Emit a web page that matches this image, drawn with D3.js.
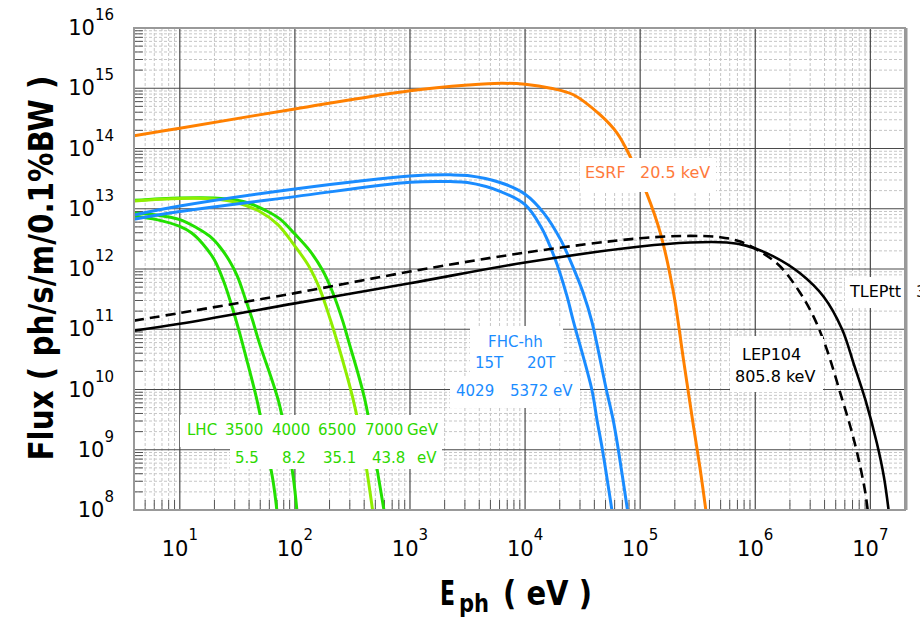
<!DOCTYPE html>
<html>
<head>
<meta charset="utf-8">
<script src="https://cdn.jsdelivr.net/npm/d3@7"></script>
<style>
body { margin: 0; background: #fff; }
text { font-family: "DejaVu Sans", sans-serif; }
</style>
</head>
<body>
<svg id="chart"></svg>
<script>
// photon energy (eV), flux (ph/s/m/0.1%BW)
var xTicks = [10, 1e2, 1e3, 1e4, 1e5, 1e6, 1e7];
var yTicks = [1e8, 1e9, 1e10, 1e11, 1e12, 1e13, 1e14, 1e15, 1e16];

var esrf = [[4, 1.62e14], [10, 2.17e14], [100, 4.54e14], [1000, 9.1e14], [3200, 1.13e15], [6200, 1.21e15],
	[1e4, 1.16e15], [1.67e4, 1.0e15], [2.63e4, 7.8e14], [4.5e4, 3.6e14], [6.3e4, 1.8e14], [8.2e4, 7.3e13],
	[1.14e5, 1.8e13], [1.5e5, 3.9e12], [1.95e5, 4.0e11], [2.38e5, 3.1e10], [2.91e5, 2.4e9], [3.33e5, 4.6e8], [3.72e5, 1e8]];
var fhc15 = [[4, 6.7e12], [10, 8.97e12], [100, 1.59e13], [1000, 2.75e13], [2240, 2.82e13], [3160, 2.72e13],
	[6140, 1.93e13], [1e4, 1.17e13], [1.37e4, 5.06e12], [1.79e4, 1.61e12], [2.29e4, 3.8e11], [2.63e4, 1.35e11],
	[3.8e4, 1e10], [4.22e4, 3.1e9], [4.7e4, 1e9], [5.68e4, 1e8]];
var fhc20 = [[4, 7.9e12], [10, 1.11e13], [100, 2.13e13], [1000, 3.5e13], [2240, 3.65e13], [3160, 3.55e13],
	[6140, 2.7e13], [1e4, 1.74e13], [1.46e4, 8.4e12], [2.04e4, 3.04e12], [2.67e4, 9.7e11], [3.19e4, 4.07e11],
	[3.8e4, 1.35e11], [5.08e4, 1e10], [5.83e4, 3.1e9], [6.46e4, 1e9], [7.76e4, 1e8]];
var lhc3500 = [[4, 7.6e12], [6.3, 6.6e12], [10, 5.1e12], [12.6, 4.0e12], [15.8, 2.63e12], [20, 1.41e12],
	[24, 6.3e11], [28.3, 2.43e11], [33.3, 8.3e10], [39, 2.65e10], [46.8, 6.7e9], [56, 1.24e9], [64.4, 3.15e8], [69.7, 1e8]];
var lhc4000 = [[4, 8.5e12], [6.3, 7.9e12], [10, 6.6e12], [14.1, 4.8e12], [18.2, 3.5e12], [22.4, 2.3e12],
	[26.9, 1.38e12], [31.6, 7.6e11], [37.2, 3.16e11], [42.7, 1.45e11], [49, 6.0e10], [71.6, 6.7e9], [85, 1.45e9],
	[96.6, 3.6e8], [104, 1e8]];
var lhc6500 = [[4, 1.35e13], [10, 1.48e13], [20, 1.45e13], [31.6, 1.26e13], [50, 8.9e12], [70.8, 5.5e12],
	[100, 2.4e12], [132, 1.12e12], [166, 4.47e11], [204, 1.41e11], [231, 6.6e10], [321, 6.8e9], [398, 8.9e8], [473, 1e8]];
var lhc7000 = [[4, 1.38e13], [10, 1.51e13], [20, 1.51e13], [31.6, 1.38e13], [41.7, 1.2e13], [55, 9.5e12],
	[74, 6.8e12], [100, 3.8e12], [135, 2.0e12], [174, 9.5e11], [214, 4.0e11], [261, 1.35e11], [291, 6.6e10],
	[406, 6.7e9], [537, 3.16e8], [594, 1e8]];
var lep104 = [[4, 1.39e11], [10, 1.86e11], [100, 3.98e11], [1000, 9.06e11], [1e4, 1.87e12], [1e5, 3.24e12],
	[2.72e5, 3.54e12], [4.97e5, 3.37e12], [7.41e5, 2.85e12], [1.1e6, 1.95e12], [1.65e6, 1.1e12], [2.46e6, 4.0e11],
	[3.21e6, 1.62e11], [4.2e6, 4.54e10], [5.48e6, 8.7e9], [6.7e6, 2.43e9], [7.93e6, 6.8e8], [9.06e6, 1.9e8], [9.48e6, 1e8]];
var tleptt = [[4, 9.5e10], [10, 1.23e11], [100, 2.69e11], [1000, 5.8e11], [1e4, 1.28e12], [1e5, 2.36e12],
	[2.72e5, 2.75e12], [5.68e5, 2.75e12], [8.47e5, 2.42e12], [1.45e6, 1.61e12], [2.45e6, 8.5e11], [3.93e6, 3.47e11],
	[5.68e6, 1e11], [7.2e6, 2.6e10], [9.06e6, 6.7e9], [1.14e7, 1.28e9], [1.31e7, 3.6e8], [1.44e7, 1e8]];

var w = 920;
var h = 618;
var plot = { left: 134, right: 905, top: 28, bottom: 510 };

var xScale = d3.scaleLog().domain([4, 2e7]).range([plot.left, plot.right]);
var yScale = d3.scaleLog().domain([1e8, 1e16]).range([plot.bottom, plot.top]);

var svg = d3.select("#chart")
	.attr("width", w)
	.attr("height", h);
svg.append("rect")
	.attr("width", w)
	.attr("height", h)
	.attr("fill", "white");

function isMajor(v) {
	var l = Math.log10(v);
	return Math.abs(l - Math.round(l)) < 1e-6;
}
var xMinor = xScale.ticks().filter(function (v) { return !isMajor(v); });
var yMinor = yScale.ticks().filter(function (v) { return !isMajor(v); });
var xMajor = xTicks;
var yMajor = yTicks.slice(1, -1);

// minor grid
var grid = svg.append("g");
grid.selectAll(".vmin")
	.data(xMinor)
	.enter()
	.append("line")
	.attr("x1", function (d) { return xScale(d); })
	.attr("x2", function (d) { return xScale(d); })
	.attr("y1", plot.top)
	.attr("y2", plot.bottom)
	.attr("stroke", "#c6c6c6")
	.attr("stroke-dasharray", "3,2");
grid.selectAll(".hmin")
	.data(yMinor)
	.enter()
	.append("line")
	.attr("x1", plot.left)
	.attr("x2", plot.right)
	.attr("y1", function (d) { return yScale(d); })
	.attr("y2", function (d) { return yScale(d); })
	.attr("stroke", "#c6c6c6")
	.attr("stroke-dasharray", "3,2");
// major grid
grid.selectAll(".vmaj")
	.data(xMajor)
	.enter()
	.append("line")
	.attr("x1", function (d) { return xScale(d); })
	.attr("x2", function (d) { return xScale(d); })
	.attr("y1", plot.top)
	.attr("y2", plot.bottom)
	.attr("stroke", "#4a4a4a")
	.attr("stroke-width", 1.2);
grid.selectAll(".hmaj")
	.data(yMajor)
	.enter()
	.append("line")
	.attr("x1", plot.left)
	.attr("x2", plot.right)
	.attr("y1", function (d) { return yScale(d); })
	.attr("y2", function (d) { return yScale(d); })
	.attr("stroke", "#4a4a4a")
	.attr("stroke-width", 1.2);
// inside ticks
grid.selectAll(".xt")
	.data(xMinor)
	.enter()
	.append("line")
	.attr("x1", function (d) { return xScale(d); })
	.attr("x2", function (d) { return xScale(d); })
	.attr("y1", plot.bottom)
	.attr("y2", plot.bottom - 10)
	.attr("stroke", "#555");
grid.selectAll(".yt")
	.data(yMinor)
	.enter()
	.append("line")
	.attr("x1", plot.left)
	.attr("x2", plot.left + 9)
	.attr("y1", function (d) { return yScale(d); })
	.attr("y2", function (d) { return yScale(d); })
	.attr("stroke", "#555");

// curves
svg.append("clipPath")
	.attr("id", "clip")
	.append("rect")
	.attr("x", plot.left)
	.attr("y", plot.top)
	.attr("width", plot.right - plot.left)
	.attr("height", plot.bottom - plot.top);

var line = d3.line()
	.x(function (d) { return xScale(d[0]); })
	.y(function (d) { return yScale(d[1]); })
	.curve(d3.curveCatmullRom.alpha(0.5));

var series = [
	{ data: lhc3500, color: "#22e000", width: 3 },
	{ data: lhc4000, color: "#22e000", width: 3 },
	{ data: lhc7000, color: "#22e000", width: 3 },
	{ data: lhc6500, color: "#8fee00", width: 3 },
	{ data: fhc15, color: "#1a8cff", width: 3 },
	{ data: fhc20, color: "#1a8cff", width: 3 },
	{ data: esrf, color: "#ff8000", width: 3 },
	{ data: tleptt, color: "black", width: 2.6 },
	{ data: lep104, color: "black", width: 2.6, dash: "10,6" }
];
svg.append("g")
	.attr("clip-path", "url(#clip)")
	.selectAll("path")
	.data(series)
	.enter()
	.append("path")
	.attr("d", function (d) { return line(d.data); })
	.attr("fill", "none")
	.attr("stroke", function (d) { return d.color; })
	.attr("stroke-width", function (d) { return d.width; })
	.attr("stroke-dasharray", function (d) { return d.dash || null; });

// label boxes and texts
var boxes = [
	[580, 158, 136, 34], [470, 326, 93, 52], [450, 378, 130, 30],
	[180, 415, 262, 32], [230, 447, 212, 22], [730, 336, 93, 56], [845, 277, 80, 31]
];
svg.append("g")
	.selectAll("rect")
	.data(boxes)
	.enter()
	.append("rect")
	.attr("x", function (d) { return d[0]; })
	.attr("y", function (d) { return d[1]; })
	.attr("width", function (d) { return d[2]; })
	.attr("height", function (d) { return d[3]; })
	.attr("fill", "white");

var labels = [
	{ t: "ESRF", x: 585, y: 178, c: "#ff7a3c", s: 16 },
	{ t: "20.5 keV", x: 640, y: 178, c: "#ff7a3c", s: 16 },
	{ t: "FHC-hh", x: 488, y: 347, c: "#1a8cff", s: 15 },
	{ t: "15T", x: 475, y: 368, c: "#1a8cff", s: 15 },
	{ t: "20T", x: 527, y: 368, c: "#1a8cff", s: 15 },
	{ t: "4029", x: 456, y: 396, c: "#1a8cff", s: 15 },
	{ t: "5372 eV", x: 510, y: 396, c: "#1a8cff", s: 15 },
	{ t: "LHC", x: 187, y: 435, c: "#2ed800", s: 15 },
	{ t: "3500", x: 225, y: 435, c: "#2ed800", s: 15 },
	{ t: "4000", x: 272, y: 435, c: "#2ed800", s: 15 },
	{ t: "6500", x: 318, y: 435, c: "#2ed800", s: 15 },
	{ t: "7000", x: 365, y: 435, c: "#2ed800", s: 15 },
	{ t: "GeV", x: 407, y: 435, c: "#2ed800", s: 15 },
	{ t: "5.5", x: 235, y: 463, c: "#2ed800", s: 15 },
	{ t: "8.2", x: 282, y: 463, c: "#2ed800", s: 15 },
	{ t: "35.1", x: 323, y: 463, c: "#2ed800", s: 15 },
	{ t: "43.8", x: 372, y: 463, c: "#2ed800", s: 15 },
	{ t: "eV", x: 417, y: 463, c: "#2ed800", s: 15 },
	{ t: "LEP104", x: 742, y: 360, c: "black", s: 16 },
	{ t: "805.8 keV", x: 735, y: 382, c: "black", s: 16 },
	{ t: "TLEPtt", x: 850, y: 297, c: "black", s: 16 },
	{ t: "3", x: 916, y: 297, c: "black", s: 16 }
];
svg.append("g")
	.selectAll("text")
	.data(labels)
	.enter()
	.append("text")
	.attr("x", function (d) { return d.x; })
	.attr("y", function (d) { return d.y; })
	.attr("fill", function (d) { return d.c; })
	.attr("font-size", function (d) { return d.s; })
	.text(function (d) { return d.t; });

// frame
svg.append("rect")
	.attr("x", plot.left)
	.attr("y", plot.top)
	.attr("width", plot.right - plot.left)
	.attr("height", plot.bottom - plot.top)
	.attr("fill", "none")
	.attr("stroke", "#999")
	.attr("stroke-width", 2);
svg.append("line")
	.attr("x1", plot.right + 1)
	.attr("x2", plot.right + 1)
	.attr("y1", plot.top)
	.attr("y2", plot.bottom)
	.attr("stroke", "#999")
	.attr("stroke-width", 3);

// tick labels
var xl = svg.append("g")
	.selectAll("text")
	.data(xTicks)
	.enter()
	.append("text")
	.attr("x", function (d) { return xScale(d); })
	.attr("y", 556)
	.attr("text-anchor", "middle")
	.attr("font-size", 21);
xl.append("tspan").text("10");
xl.append("tspan")
	.attr("dy", -16)
	.attr("font-size", 15)
	.text(function (d) { return Math.round(Math.log10(d)); });

var yl = svg.append("g")
	.selectAll("text")
	.data(yTicks)
	.enter()
	.append("text")
	.attr("x", 114)
	.attr("y", function (d) { return yScale(d) + 7; })
	.attr("text-anchor", "end")
	.attr("font-size", 21);
yl.append("tspan").text("10");
yl.append("tspan")
	.attr("dy", -15)
	.attr("font-size", 15)
	.text(function (d) { return Math.round(Math.log10(d)); });

// axis titles
svg.append("text")
	.attr("x", 440)
	.attr("y", 605)
	.attr("font-size", 34)
	.attr("font-weight", "bold")
	.attr("textLength", 15)
	.attr("lengthAdjust", "spacingAndGlyphs")
	.text("E");
svg.append("text")
	.attr("x", 459)
	.attr("y", 612)
	.attr("font-size", 24)
	.attr("font-weight", "bold")
	.attr("textLength", 30)
	.attr("lengthAdjust", "spacingAndGlyphs")
	.text("ph");
svg.append("text")
	.attr("x", 503)
	.attr("y", 605)
	.attr("font-size", 34)
	.attr("font-weight", "bold")
	.attr("textLength", 89)
	.attr("lengthAdjust", "spacingAndGlyphs")
	.text("( eV )");

svg.append("text")
	.attr("transform", "translate(53,268) rotate(-90)")
	.attr("text-anchor", "middle")
	.attr("font-size", 34)
	.attr("font-weight", "bold")
	.attr("textLength", 385)
	.attr("lengthAdjust", "spacingAndGlyphs")
	.text("Flux ( ph/s/m/0.1%BW )");
</script>
</body>
</html>
